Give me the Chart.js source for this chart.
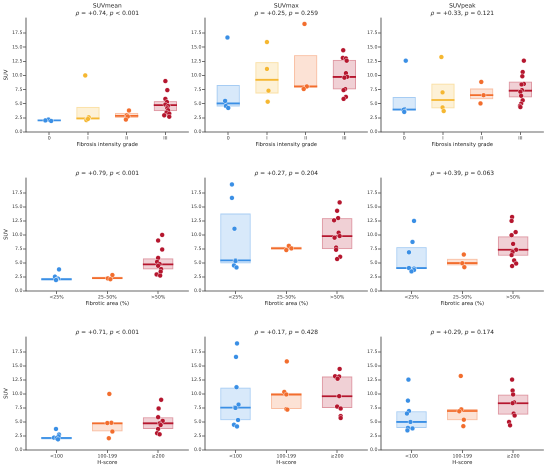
<!DOCTYPE html>
<html>
<head>
<meta charset="utf-8">
<script src="https://cdn.jsdelivr.net/npm/chart.js@4.4.1/dist/chart.umd.min.js"></script>
<style>
  body { margin: 0; background: #fff; }
  #wrap { position: relative; width: 550px; height: 469px; }
  #wrap canvas { position: absolute; }
</style>
</head>
<body>
<div id="wrap"></div>
<script>
// categories and labels
const gradeCats = ['0', 'I', 'II', 'III'];
const areaCats = ['<25%', '25–50%', '>50%'];
const hCats = ['<100', '100-199', '≥200'];
const xTitles = ['Fibrosis intensity grade', 'Fibrotic area (%)', 'H-score'];
const colTitles = ['SUVmean', 'SUVmax', 'SUVpeak'];
const yTicks = [0, 2.5, 5, 7.5, 10, 12.5, 15, 17.5];
const rhoVals = [['+0.74', '+0.25', '+0.33'], ['+0.79', '+0.27', '+0.39'], ['+0.71', '+0.17', '+0.29']];
const pVals = [['< 0.001', '= 0.259', '= 0.121'], ['< 0.001', '= 0.204', '= 0.063'], ['< 0.001', '= 0.428', '= 0.174']];

// colours
const blue = [58, 143, 229], gold = [245, 183, 49], orange = [242, 109, 45], red = [181, 22, 46];
const gradeColors = [blue, gold, orange, red];
const threeColors = [blue, orange, red];

// ---- row 1: fibrosis intensity grade ----
// box = [q1, median, q3] per group, vals = points, jit = horizontal strip offsets
const meanGradeBox = [[1.9, 2.05, 2.2], [2.25, 2.4, 4.45], [2.49, 2.85, 3.38], [3.68, 4.75, 5.46]];
const meanGradeVals = [[2.2, 1.95, 2.05], [10.0, 2.6, 2.1, 2.3], [3.8, 2.95, 2.75, 2.2], [9.0, 7.4, 5.85, 5.3, 4.85, 4.6, 4.2, 3.85, 3.45, 3.25, 2.95, 2.7]];
const meanGradeJit = [[-0.02, 0.05, -0.1], [-0.07, 0.02, -0.04, 0.0], [0.06, 0.0, 0.03, -0.02], [0.0, 0.05, 0.0, 0.04, 0.0, 0.07, 0.05, 0.07, 0.03, 0.1, -0.03, 0.1]];

const maxGradeBox = [[4.51, 5.05, 8.3], [6.81, 9.22, 12.34], [7.83, 8.05, 13.58], [7.53, 9.73, 12.75]];
const maxGradeVals = [[16.7, 5.5, 4.6, 4.25], [15.9, 11.15, 7.3, 5.35], [19.1, 8.05, 7.6], [14.45, 13.1, 13.0, 12.6, 10.4, 9.75, 9.6, 7.6, 7.4, 6.2, 5.85]];
const maxGradeJit = [[-0.02, -0.08, -0.06, 0.0], [0.0, 0.0, 0.04, 0.02], [-0.03, 0.03, -0.05], [-0.03, -0.04, 0.04, 0.06, 0.04, 0.07, 0.0, 0.02, -0.02, 0.04, -0.02]];

const peakGradeBox = [[3.81, 3.97, 6.19], [4.17, 5.65, 8.55], [5.78, 6.52, 7.68], [6.11, 7.3, 8.9]];
const peakGradeVals = [[12.6, 4.05, 3.9, 3.55], [13.25, 7.0, 4.35, 3.7], [8.85, 6.5, 5.05], [12.6, 10.6, 9.85, 8.5, 8.4, 7.4, 7.1, 6.4, 5.6, 5.0, 4.6, 4.4]];
const peakGradeJit = [[0.04, 0.0, -0.02, 0.0], [-0.04, -0.01, -0.01, 0.02], [-0.01, 0.05, -0.03], [0.09, 0.06, 0.05, 0.09, 0.03, 0.04, 0.0, 0.02, 0.06, 0.02, -0.01, 0.0]];

// ---- row 2: fibrotic area ----
const meanAreaBox = [[1.92, 2.08, 2.35], [2.1, 2.3, 2.55], [3.86, 4.75, 5.81]];
const meanAreaVals = [[3.85, 2.55, 2.2, 2.05, 1.95], [2.85, 2.25, 2.1], [10.0, 9.0, 7.4, 5.9, 5.2, 4.8, 4.5, 3.9, 3.45, 2.95, 2.75]];
const meanAreaJit = [[0.05, -0.03, 0.03, 0.0, -0.01], [0.1, 0.01, 0.06], [0.08, 0.0, 0.08, 0.0, -0.02, 0.03, 0.0, 0.06, 0.05, -0.03, 0.04]];

const maxAreaBox = [[4.92, 5.46, 13.82], [7.4, 7.6, 7.9], [7.47, 9.79, 12.99]];
const maxAreaVals = [[19.0, 16.6, 11.1, 5.5, 5.35, 4.55, 4.2], [8.05, 7.6, 7.3], [15.8, 14.3, 13.0, 12.6, 10.4, 9.8, 9.5, 7.75, 7.35, 6.1, 5.7]];
const maxAreaJit = [[-0.07, -0.07, -0.02, 0.0, 0.0, -0.03, 0.02], [0.05, 0.1, 0.0], [0.05, 0.0, 0.02, -0.06, 0.03, 0.05, -0.05, -0.02, -0.02, 0.06, 0.0]];

const peakAreaBox = [[3.91, 4.09, 7.83], [4.57, 4.98, 5.75], [6.29, 7.35, 9.73]];
const peakAreaVals = [[12.5, 8.75, 6.9, 4.1, 4.0, 3.75, 3.5], [6.5, 4.95, 4.25], [13.2, 12.5, 10.5, 9.95, 8.4, 7.35, 6.95, 6.4, 5.45, 4.9, 4.45]];
const peakAreaJit = [[0.05, 0.02, -0.05, -0.05, 0.05, 0.05, 0.0], [0.03, 0.0, 0.04], [-0.02, -0.03, 0.05, -0.03, 0.0, 0.06, -0.01, -0.03, 0.02, 0.06, -0.02]];

// ---- row 3: H-score ----
const meanHBox = [[1.9, 2.14, 2.32], [3.33, 4.76, 4.82], [3.75, 4.76, 5.83]];
const meanHVals = [[3.75, 2.75, 2.45, 2.2, 2.1, 1.9], [10.0, 4.85, 4.8, 3.3, 2.1], [8.95, 7.4, 5.85, 5.2, 4.75, 4.45, 3.75, 3.0, 2.8]];
const meanHJit = [[-0.01, 0.05, 0.04, -0.05, 0.0, 0.03], [0.04, 0.08, 0.0, 0.1, 0.03], [0.06, 0.01, 0.0, 0.09, 0.03, 0.05, 0.0, -0.02, 0.03]];

const maxHBox = [[5.3, 7.56, 11.13], [7.32, 9.88, 10.18], [7.5, 9.58, 13.1]];
const maxHVals = [[19.0, 16.6, 11.2, 8.1, 7.6, 7.5, 5.35, 4.5, 4.2], [15.8, 10.35, 9.9, 7.3, 7.2], [14.45, 13.15, 13.1, 12.7, 9.6, 7.75, 7.4, 6.05, 5.7]];
const maxHJit = [[0.03, 0.01, 0.02, 0.06, -0.01, 0.0, 0.05, -0.03, 0.03], [0.01, -0.04, 0.0, 0.0, 0.02], [0.05, -0.04, 0.04, 0.01, 0.04, 0.0, 0.07, 0.07, 0.07]];

const peakHBox = [[3.93, 5.0, 6.9], [5.3, 6.96, 7.32], [6.31, 8.33, 9.88]];
const peakHVals = [[12.55, 8.8, 6.95, 6.5, 5.0, 3.95, 3.85, 3.5], [13.2, 7.25, 6.9, 5.4, 4.25], [12.55, 10.6, 9.9, 8.5, 8.35, 6.5, 6.15, 5.0, 4.4]];
const peakHJit = [[-0.06, -0.07, -0.05, -0.09, -0.02, -0.07, 0.02, -0.08], [-0.03, -0.02, -0.06, 0.03, 0.02], [-0.02, -0.01, 0.0, 0.02, -0.01, 0.01, 0.03, -0.08, -0.06]];

const panels = [
  [[meanGradeBox, meanGradeVals, meanGradeJit], [maxGradeBox, maxGradeVals, maxGradeJit], [peakGradeBox, peakGradeVals, peakGradeJit]],
  [[meanAreaBox, meanAreaVals, meanAreaJit], [maxAreaBox, maxAreaVals, maxAreaJit], [peakAreaBox, peakAreaVals, peakAreaJit]],
  [[meanHBox, meanHVals, meanHJit], [maxHBox, maxHVals, maxHJit], [peakHBox, peakHVals, peakHJit]]
];
const rowCats = [gradeCats, areaCats, hCats];
const rowColors = [gradeColors, threeColors, threeColors];

// layout of the grid (plot areas)
const colLeft = [26, 204.5, 381];
const plotW = 164;
const rowTop = [18, 178, 337];
const rowBottom = [132, 291, 450];
const yAxisW = 26, xAxisH = 17, topPad = 18, rightPad = 3;

const FONT = '"DejaVu Sans", sans-serif';
const axisColor = '#333';
const rgba = (c, a) => `rgba(${c[0]},${c[1]},${c[2]},${a})`;

// title with italic rho and p
const titlePlugin = {
  id: 'panelTitle',
  afterDraw(chart, args, o) {
    const { ctx, chartArea } = chart;
    const cx = (chartArea.left + chartArea.right) / 2;
    ctx.save();
    ctx.fillStyle = '#222';
    ctx.textBaseline = 'middle';
    const size = 5.9;
    if (o.head) {
      ctx.font = `${size}px ${FONT}`;
      ctx.textAlign = 'center';
      ctx.fillText(o.head, cx, chartArea.top - 12);
    }
    const y = chartArea.top - 4.5;
    const segs = [['ρ', true], [' = ' + o.rho + ', ', false], ['p', true], [' ' + o.p, false]];
    let total = 0;
    segs.forEach(s => {
      ctx.font = `${s[1] ? 'italic ' : ''}${size}px ${FONT}`;
      s.push(ctx.measureText(s[0]).width);
      total += s[2];
    });
    let x = cx - total / 2;
    ctx.textAlign = 'left';
    segs.forEach(s => {
      ctx.font = `${s[1] ? 'italic ' : ''}${size}px ${FONT}`;
      ctx.fillText(s[0], x, y);
      x += s[2];
    });
    ctx.restore();
  }
};

const wrap = document.getElementById('wrap');

for (let r = 0; r < 3; r++) {
  for (let c = 0; c < 3; c++) {
    const [box, vals, jit] = panels[r][c];
    const cats = rowCats[r];
    const colors = rowColors[r];
    const canvas = document.createElement('canvas');
    const w = yAxisW + plotW + rightPad;
    const h = topPad + (rowBottom[r] - rowTop[r]) + xAxisH;
    canvas.style.left = (colLeft[c] - yAxisW) + 'px';
    canvas.style.top = (rowTop[r] - topPad) + 'px';
    canvas.style.width = w + 'px';
    canvas.style.height = h + 'px';
    wrap.appendChild(canvas);

    const datasets = [];
    // boxes (q1..q3)
    datasets.push({
      type: 'bar',
      data: box.map((b, i) => ({ x: i, y: [b[0], b[2]] })),
      backgroundColor: colors.map(col => rgba(col, 0.2)),
      borderColor: colors.map(col => rgba(col, 0.45)),
      borderWidth: 1,
      borderSkipped: false,
      barPercentage: 0.6,
      categoryPercentage: 1,
      order: 3
    });
    // medians
    box.forEach((b, i) => {
      datasets.push({
        type: 'line',
        data: [{ x: i - 0.3, y: b[1] }, { x: i + 0.3, y: b[1] }],
        borderColor: rgba(colors[i], 1),
        borderWidth: 1.8,
        pointRadius: 0,
        order: 2
      });
    });
    // strip points
    vals.forEach((g, i) => {
      datasets.push({
        type: 'scatter',
        data: g.map((v, k) => ({ x: i + jit[i][k], y: v })),
        backgroundColor: rgba(colors[i], 1),
        borderColor: '#ffffff',
        borderWidth: 0.4,
        pointRadius: 2.4,
        order: 1
      });
    });

    new Chart(canvas, {
      type: 'scatter',
      data: { datasets },
      options: {
        responsive: false,
        animation: false,
        devicePixelRatio: 2,
        layout: { padding: { top: topPad, left: 0, right: rightPad, bottom: 0 } },
        plugins: {
          legend: { display: false },
          tooltip: { enabled: false },
          panelTitle: { head: r === 0 ? colTitles[c] : '', rho: rhoVals[r][c], p: pVals[r][c] }
        },
        scales: {
          x: {
            type: 'linear',
            min: -0.6,
            max: cats.length - 0.4,
            offset: false,
            afterBuildTicks: s => { s.ticks = cats.map((t, i) => ({ value: i })); },
            afterFit: s => { s.height = xAxisH; },
            ticks: {
              autoSkip: false, maxRotation: 0, padding: 0.5,
              color: axisColor, font: { family: FONT, size: 4.7 },
              callback: v => cats[Math.round(v)]
            },
            grid: { display: true, drawOnChartArea: false, drawTicks: true, tickLength: 3, color: axisColor, lineWidth: 0.7, offset: false },
            border: { display: true, color: axisColor, width: 0.8 },
            title: { display: true, text: xTitles[r], color: '#222', font: { family: FONT, size: 5.3 }, padding: { top: 0, bottom: 1 } }
          },
          y: {
            type: 'linear',
            min: 0,
            max: 20.15,
            afterBuildTicks: s => { s.ticks = yTicks.map(v => ({ value: v })); },
            afterFit: s => { s.width = yAxisW; },
            ticks: {
              padding: 0.5, color: axisColor, font: { family: FONT, size: 4.7 },
              callback: v => v.toFixed(1)
            },
            grid: { display: true, drawOnChartArea: false, drawTicks: true, tickLength: 3, color: axisColor, lineWidth: 0.7 },
            border: { display: true, color: axisColor, width: 0.8 },
            title: { display: c === 0, text: 'SUV', color: '#222', font: { family: FONT, size: 5.3 }, padding: { top: 2.8, bottom: 0 } }
          }
        }
      },
      plugins: [titlePlugin]
    });
  }
}
</script>
</body>
</html>
